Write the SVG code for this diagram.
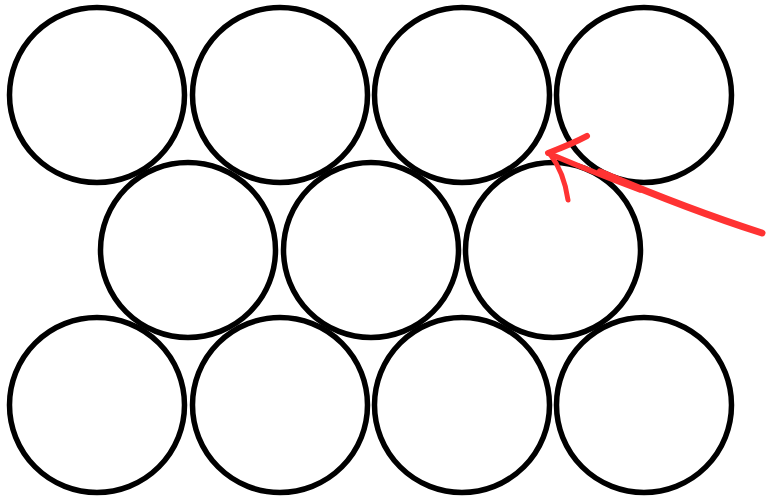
<svg xmlns="http://www.w3.org/2000/svg" width="767" height="500" viewBox="0 0 767 500">
<style>
.c{fill:none;stroke:#000;stroke-width:5.5}
.a{fill:none;stroke:#ff3333;stroke-linecap:round;stroke-linejoin:round}
</style>
<rect width="767" height="500" fill="#fff"/>
<g id="n1"><circle class="c" cx="97" cy="95" r="87.5"/></g>
<g id="n2"><circle class="c" cx="280" cy="95" r="87.5"/></g>
<g id="n3"><circle class="c" cx="462" cy="95" r="87.5"/></g>
<g id="n4"><circle class="c" cx="644" cy="95" r="87.5"/></g>
<g id="n5"><circle class="c" cx="188" cy="250" r="87.5"/></g>
<g id="n6"><circle class="c" cx="371" cy="250" r="87.5"/></g>
<g id="n7"><circle class="c" cx="553" cy="250" r="87.5"/></g>
<g id="n8"><circle class="c" cx="97" cy="405" r="87.5"/></g>
<g id="n9"><circle class="c" cx="280" cy="405" r="87.5"/></g>
<g id="n10"><circle class="c" cx="462" cy="405" r="87.5"/></g>
<g id="n11"><circle class="c" cx="644" cy="405" r="87.5"/></g>
<g id="connectors">
<path class="a" stroke-width="6" d="M587,136 Q572,144 548,153"/>
<path class="a" stroke-width="5" d="M550,154 Q564,172 568,200"/>
<path class="a" stroke-width="5.5" d="M550,154 Q600,175 640,190"/>
<path class="a" stroke-width="7" d="M600,172 Q690,210 762,233"/>
</g>
</svg>
